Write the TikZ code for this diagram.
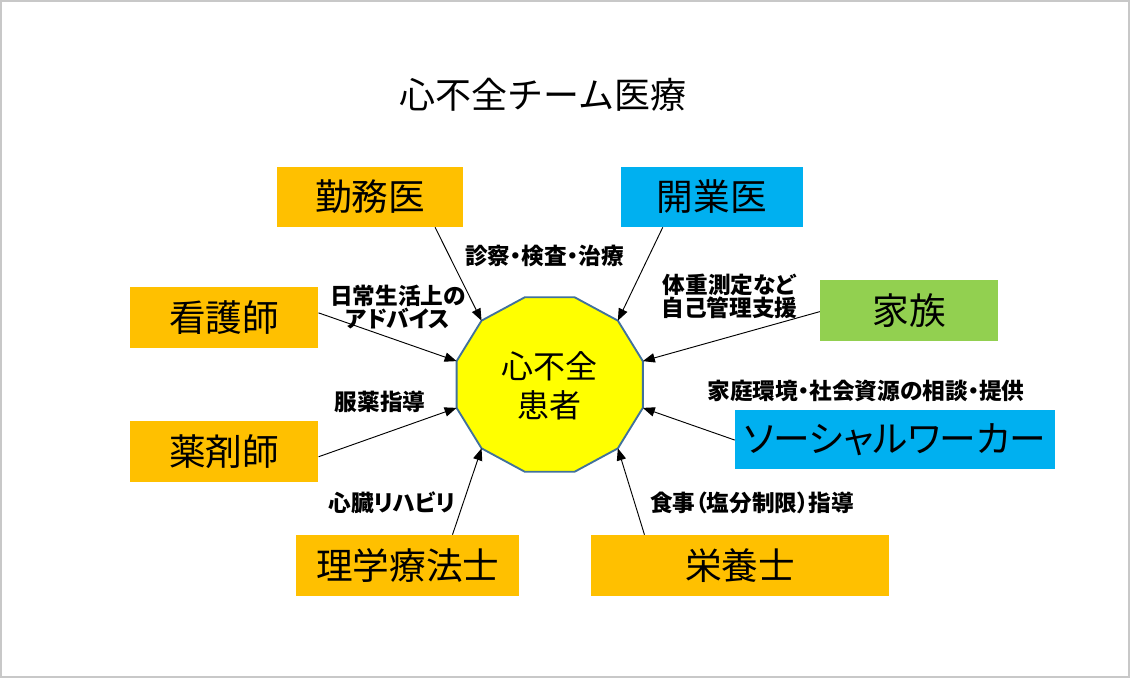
\documentclass[tikz,border=0pt]{standalone}
\usepackage{fontspec}
\setmainfont{Noto Sans CJK JP}
\newfontfamily\pfont[RawFeature=+palt]{Noto Sans CJK JP}
\usetikzlibrary{arrows.meta,calc}
\definecolor{orng}{HTML}{FFC000}
\definecolor{skyb}{HTML}{00B0F0}
\definecolor{lgrn}{HTML}{92D050}
\definecolor{yel}{HTML}{FFFF00}
\definecolor{edgeb}{HTML}{41719C}
\definecolor{frame}{HTML}{C8C8C8}
\begin{document}
\begin{tikzpicture}[x=0.75pt,y=-0.75pt,
  box/.style={inner sep=0pt, minimum height=45pt, font=\fontsize{27.5}{30}\selectfont},
  lab/.style={inner sep=0pt, align=center, font=\pfont\bfseries\fontsize{17}{17.3}\selectfont},
  arr/.style={-{Triangle[length=9pt,width=7pt]}, line width=0.7pt, black}]
\useasboundingbox (0,0) rectangle (1130,678);
\draw[frame, line width=1.1pt] (1,1) rectangle (1129,677);
% title
\node (title) at (543,95) {\fontsize{27}{30}\selectfont 心不全チーム医療};
% central dodecagon
\foreach \a in {15,45,...,345}{
  \coordinate (v\a) at ({549.7+96.4*cos(\a)},{384.5-90.3*sin(\a)});
}
\draw[fill=yel, draw=edgeb, line width=1.4pt, line join=miter]
  (v15)--(v45)--(v75)--(v105)--(v135)--(v165)--(v195)--(v225)--(v255)--(v285)--(v315)--(v345)--cycle;
\node[align=center, inner sep=0pt, font=\fontsize{24}{29.6}\selectfont] (pat) at (549.5,386) {心不全\\患者};
% boxes
\node[box, fill=orng, minimum width=139pt] (kinmu) at (370,197) {勤務医};
\node[box, fill=skyb, minimum width=136.5pt] (kaigyo) at (711.7,197) {開業医};
\node[box, fill=orng, minimum width=141.2pt, minimum height=45.75pt] (kango) at (224.2,317.8) {看護師};
\node[box, fill=lgrn, minimum width=133.7pt, minimum height=45.5pt] (kazoku) at (909.2,310.4) {家族};
\node[box, fill=orng, minimum width=141.2pt, minimum height=45.75pt] (yakuzai) at (224.2,451.2) {薬剤師};
\node[box, fill=skyb, minimum width=240pt, minimum height=44.5pt, font=\pfont\fontsize{27.5}{30}\selectfont] (sw) at (895,439.7) {ソーシャルワーカー};
\node[box, fill=orng, minimum width=167.5pt, minimum height=45.75pt] (rigaku) at (407.7,565.5) {理学療法士};
\node[box, fill=orng, minimum width=223.5pt, minimum height=45.75pt] (eiyo) at (740,565.5) {栄養士};
% connectors
\draw[arr] ($(kinmu.south west)!0.85!(kinmu.south east)$) -- (v135);
\draw[arr] ($(kaigyo.south west)!0.232!(kaigyo.south east)$) -- (v45);
\draw[arr] ($(kango.north east)!0.42!(kango.south east)$) -- (v165);
\draw[arr] ($(kazoku.north west)!0.52!(kazoku.south west)$) -- (v15);
\draw[arr] ($(yakuzai.north east)!0.59!(yakuzai.south east)$) -- (v195);
\draw[arr] ($(sw.north west)!0.506!(sw.south west)$) -- (v345);
\draw[arr] ($(rigaku.north west)!0.70!(rigaku.north east)$) -- (v225);
\draw[arr] ($(eiyo.north west)!0.18!(eiyo.north east)$) -- (v315);
% labels
\node[lab] (l1) at (544.5,256) {診察・検査・治療};
\node[lab] (l2) at (398,307) {日常生活上の\\アドバイス};
\node[lab] (l3) at (729.5,296.5) {体重測定など\\自己管理支援};
\node[lab] (l4) at (380,402) {服薬指導};
\node[lab] (l5) at (866,391) {家庭環境・社会資源の相談・提供};
\node[lab] (l6) at (392,503) {心臓リハビリ};
\node[lab] (l7) at (752,503) {食事（塩分制限）指導};
\end{tikzpicture}
\end{document}
